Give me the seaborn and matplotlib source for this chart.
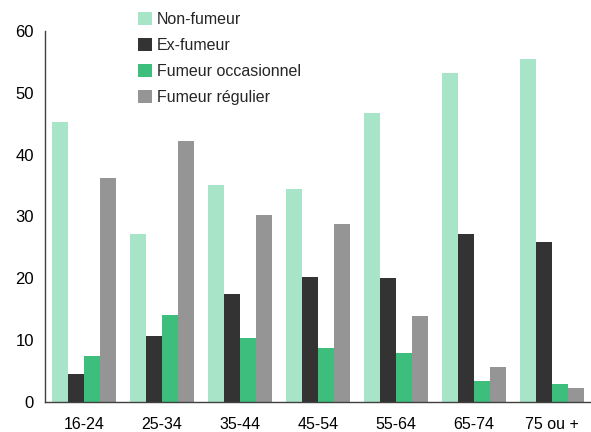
import numpy as np
import pandas as pd
import seaborn as sns
import matplotlib.pyplot as plt

ages = ["16-24", "25-34", "35-44", "45-54", "55-64", "65-74", "75 ou +"]
statuts = ["Non-fumeur", "Ex-fumeur", "Fumeur occasionnel", "Fumeur régulier"]
non_fumeur = [45.3, 27.1, 35.1, 34.5, 46.7, 53.2, 55.5]
ex_fumeur = [4.5, 10.6, 17.4, 20.2, 20.1, 27.1, 25.8]
occasionnel = [7.4, 14.0, 10.3, 8.7, 7.9, 3.35, 2.8]
regulier = [36.2, 42.2, 30.3, 28.8, 13.9, 5.7, 2.3]
couleurs = ["#a8e4c8", "#333333", "#3dbe7c", "#959595"]

df = pd.DataFrame({
    "age": ages * 4,
    "statut": np.repeat(statuts, len(ages)),
    "valeur": non_fumeur + ex_fumeur + occasionnel + regulier,
})

sns.set_style("white")
plt.rcParams["font.family"] = ["Liberation Sans", "DejaVu Sans"]

fig = plt.figure(figsize=(5.91, 4.32), dpi=100)
ax = fig.add_axes([0.076, 0.07, 0.924, 0.858])

sns.barplot(data=df, x="age", y="valeur", hue="statut", hue_order=statuts,
            palette=couleurs, width=0.82, saturation=1, gap=0, linewidth=0, ax=ax)

ax.set_xlim(-0.5, 6.5)
ax.set_ylim(0, 60)
ax.set_yticks(range(0, 61, 10))
ax.set_xlabel("")
ax.set_ylabel("")
ax.set_xticks(np.arange(-0.5, 7, 1), minor=True)
ax.tick_params(axis="x", which="major", length=0, pad=11, labelsize=11.5, labelcolor="black")
ax.tick_params(axis="x", which="minor", length=5, width=1, color="#404040", direction="out")
ax.tick_params(axis="y", length=5, width=1, color="#404040", direction="out",
               labelsize=12, pad=3, labelcolor="black")

sns.despine(ax=ax)
for s in ["left", "bottom"]:
    ax.spines[s].set_color("#404040")
    ax.spines[s].set_linewidth(1)

ax.legend(loc="upper left", bbox_to_anchor=(0.222, 0.987), bbox_transform=fig.transFigure,
          frameon=False, fontsize=11.5, handlelength=0.9, handleheight=0.9,
          handletextpad=0.3, labelspacing=0.68, borderaxespad=0)

fig.savefig("out.png", dpi=100)
